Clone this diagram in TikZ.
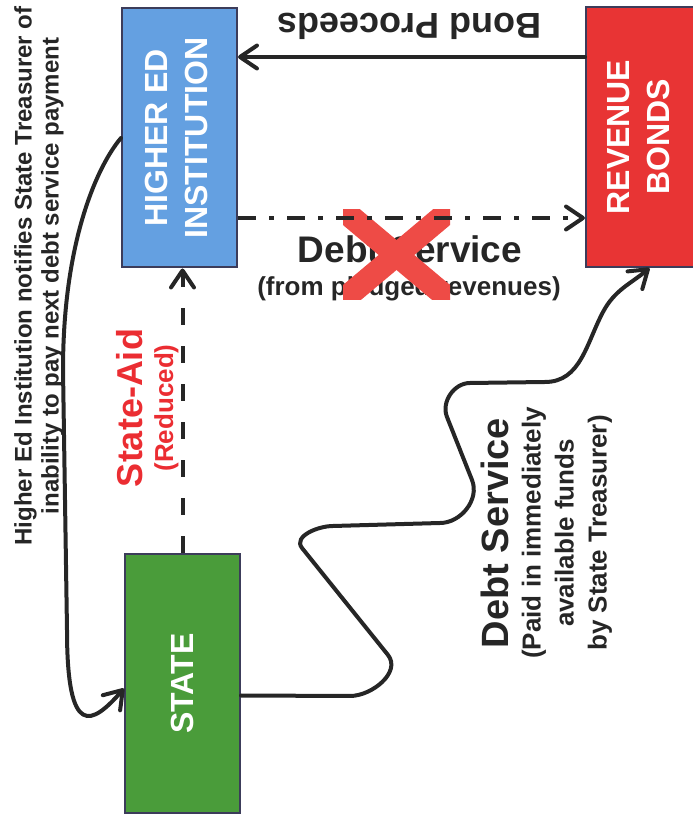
\documentclass[tikz,border=0pt]{standalone}
\usepackage{fontspec}
\setmainfont{Liberation Sans}
\usepackage{graphicx}
\usetikzlibrary{arrows.meta}
\definecolor{EdBlue}{RGB}{100,160,225}
\definecolor{BondRed}{RGB}{232,52,52}
\definecolor{StateGreen}{RGB}{74,156,58}
\definecolor{BoxEdge}{RGB}{60,60,90}
\definecolor{Ink}{RGB}{38,38,38}
\definecolor{AidRed}{RGB}{235,45,50}
\definecolor{CrossRed}{RGB}{238,75,70}

\begin{document}
\begin{tikzpicture}[x=1pt,y=1pt,
  box/.style={draw=BoxEdge,line width=2pt,text=white,inner sep=0pt,
    font=\fontsize{32}{40}\selectfont\bfseries},
  flow/.style={draw=Ink,line width=4pt,line cap=round,
    -{Straight Barb[length=17pt,width=23pt,round]}},
  lbl/.style={text=Ink,inner sep=0pt}]
  \useasboundingbox (0,0) rectangle (693,820);

  \node[box,fill=EdBlue,minimum width=115pt,minimum height=259pt] (hei) at (179.5,682)
    {\rotatebox{90}{\begin{tabular}{@{}c@{}}HIGHER ED\\INSTITUTION\end{tabular}}};
  \node[box,fill=BondRed,minimum width=111pt,minimum height=260pt] (rev) at (641.5,683)
    {\rotatebox{90}{\begin{tabular}{@{}c@{}}REVENUE\\BONDS\end{tabular}}};
  \node[box,fill=StateGreen,minimum width=115pt,minimum height=259pt] (state) at (182.5,136.5)
    {\rotatebox{90}{STATE}};

  \node[lbl,rotate=180,font=\fontsize{36}{40}\selectfont\bfseries] (bp) at (409,794) {Bond Proceeds};
  \node[lbl,anchor=base,font=\fontsize{37}{40}\selectfont\bfseries] (dsx) at (410,557) {Debt Service};
  \node[lbl,anchor=base,font=\fontsize{26}{30}\selectfont\bfseries] (pledged) at (409,524) {(from pledged revenues)};
  \node[lbl,rotate=90,anchor=base,text=AidRed,font=\fontsize{36}{40}\selectfont\bfseries] (aid) at (142,412) {State-Aid};
  \node[lbl,rotate=90,anchor=base,text=AidRed,font=\fontsize{26}{30}\selectfont\bfseries] (reduced) at (173,412) {(Reduced)};
  \node[lbl,rotate=90,align=center,font=\fontsize{24}{27}\selectfont\bfseries] (note) at (39,544)
    {Higher Ed Institution notifies State Treasurer of\\inability to pay next debt service payment};
  \node[lbl,rotate=90,anchor=base,font=\fontsize{38}{40}\selectfont\bfseries] (ds) at (508,287) {Debt Service};
  \node[lbl,rotate=90,align=center,font=\fontsize{26}{33}\selectfont\bfseries] (paid) at (567,287)
    {(Paid in immediately\\available funds\\by State Treasurer)};

  \begin{scope}
    \clip (343,520) rectangle (450,610);
    \draw[CrossRed,line width=23pt] (329.6,621.25) -- (463.4,508.75) (329.6,508.75) -- (463.4,621.25);
  \end{scope}

  \draw[flow] ([yshift=80pt]rev.west) -- ([yshift=80pt]rev.west -| hei.east);
  \draw[flow,line cap=butt,dash pattern=on 18pt off 13pt on 5pt off 13pt]
    ([yshift=-80pt]hei.east) -- ([yshift=-80pt]hei.east -| rev.west);
  \draw[flow,line cap=butt,dash pattern=on 17pt off 21pt] (state.north) -- (state.north |- hei.south);
  \draw[flow] (hei.west) .. controls (98,655) and (63,580) .. (63,450) -- (67,190)
    .. controls (67,80) and (92,95) .. ([yshift=-5pt]state.west);
  \draw[flow] ([yshift=-12pt]state.east) -- (350,124) to[out=0,in=-52] (388,165) -- (302,272)
    to[out=128,in=180] (333,294) -- (440,297) to[out=0,in=-68] (472,340) -- (447,403)
    to[out=112,in=180] (470,437) -- (545,438) to[out=0,in=-118] (603,508)
    to[out=62,in=-140] ([xshift=8pt]rev.south);
\end{tikzpicture}
\end{document}
